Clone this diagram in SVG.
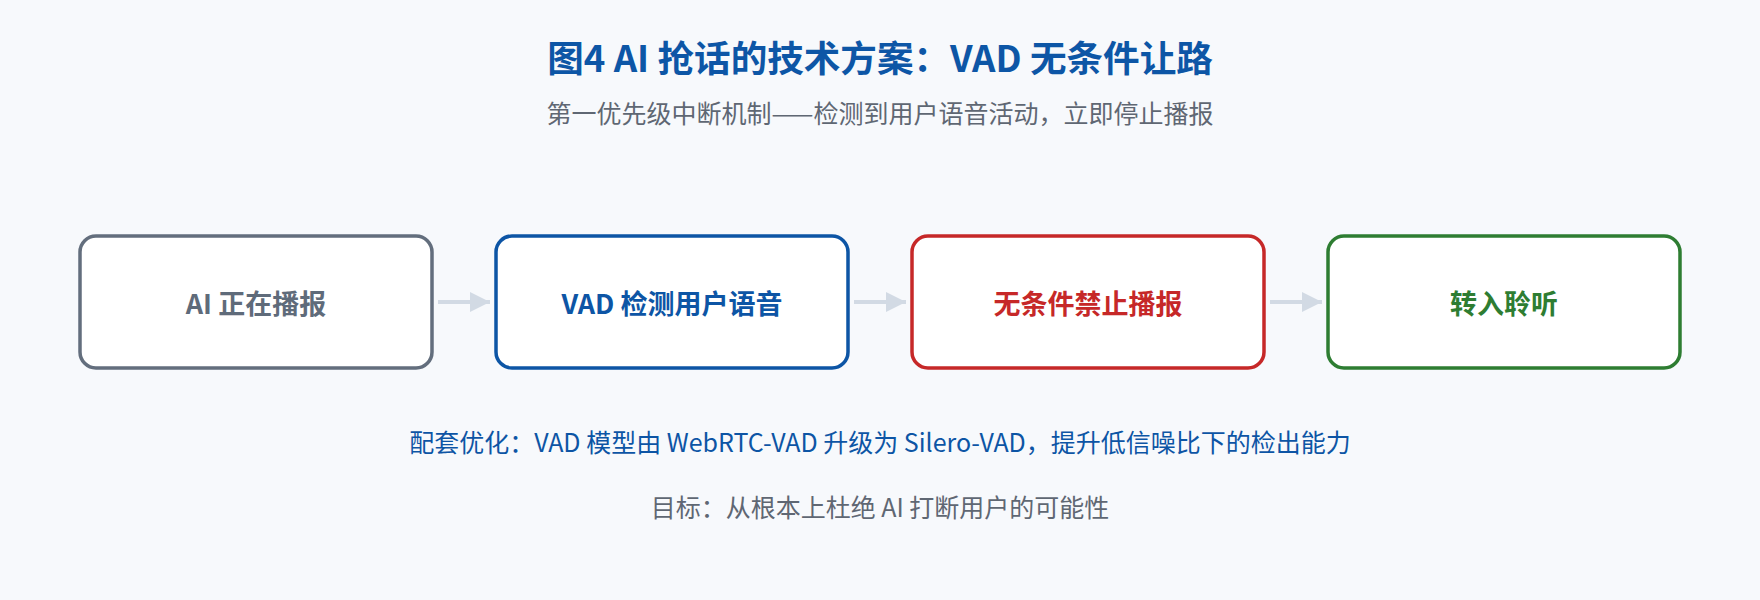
<svg xmlns="http://www.w3.org/2000/svg" width="1760" height="600" viewBox="0 0 1760 600">
<defs>
<style>
text{font-family:"Noto Sans CJK SC","Noto Sans",sans-serif;text-anchor:middle;dominant-baseline:central}
.title{font-size:36.6px;font-weight:700;fill:#0d56a6}
.sub{font-size:25px;fill:#5f6773}
.box{fill:#ffffff;stroke-width:3.5}
.lbl{font-size:27px;font-weight:700}
.note{font-size:25px}
.conn line{stroke:#d2dae4;stroke-width:4}
</style>
<marker id="ah" viewBox="0 0 10 10" refX="10" refY="5" markerWidth="5.5" markerHeight="5" markerUnits="strokeWidth" orient="auto">
<path d="M0,0 L10,5 L0,10 z" fill="#d2dae4"/>
</marker>
</defs>
<rect width="1760" height="600" fill="#f7f9fc"/>
<text class="title" x="880" y="56">图4 AI 抢话的技术方案：VAD 无条件让路</text>
<text class="sub" x="880" y="112">第一优先级中断机制——检测到用户语音活动，立即停止播报</text>
<g id="n1"><rect class="box" x="80" y="236" width="352" height="132" rx="16" stroke="#636e7d"/><text class="lbl" x="256" y="302" fill="#5f6b7a">AI 正在播报</text></g>
<g id="n2"><rect class="box" x="496" y="236" width="352" height="132" rx="16" stroke="#0d55a5"/><text class="lbl" x="672" y="302" fill="#0d55a5">VAD 检测用户语音</text></g>
<g id="n3"><rect class="box" x="912" y="236" width="352" height="132" rx="16" stroke="#c62828"/><text class="lbl" x="1088" y="302" fill="#c62828">无条件禁止播报</text></g>
<g id="n4"><rect class="box" x="1328" y="236" width="352" height="132" rx="16" stroke="#2e7d32"/><text class="lbl" x="1504" y="302" fill="#2e7d32">转入聆听</text></g>
<g class="conn">
<line x1="438" y1="302" x2="490" y2="302" marker-end="url(#ah)"/>
<line x1="854" y1="302" x2="906" y2="302" marker-end="url(#ah)"/>
<line x1="1270" y1="302" x2="1322" y2="302" marker-end="url(#ah)"/>
</g>
<text class="note" x="880" y="441" fill="#0d55a5">配套优化：VAD 模型由 WebRTC-VAD 升级为 Silero-VAD，提升低信噪比下的检出能力</text>
<text class="note" x="880" y="506" fill="#5f6773">目标：从根本上杜绝 AI 打断用户的可能性</text>
</svg>
